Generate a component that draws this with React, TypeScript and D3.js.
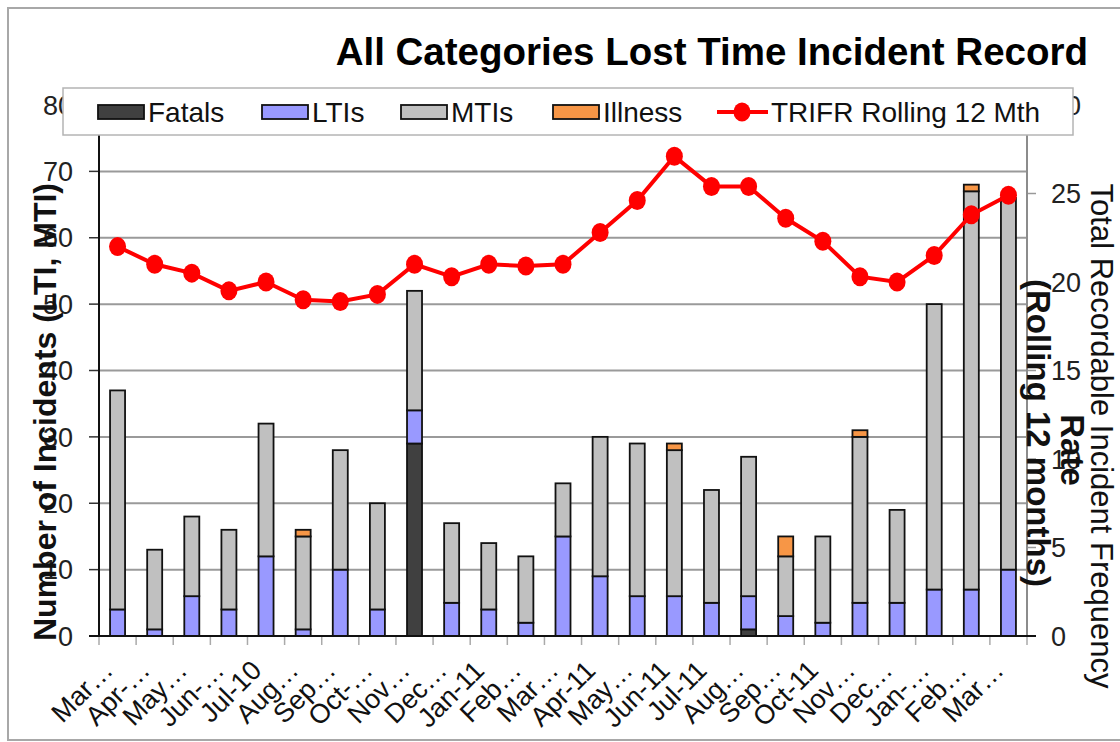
import React, { useEffect, useRef } from 'react';
import * as d3 from 'd3';

const months = [
  'Mar…', 'Apr-…', 'May…', 'Jun-…', 'Jul-10', 'Aug…', 'Sep…', 'Oct-…', 'Nov…', 'Dec…',
  'Jan-11', 'Feb…', 'Mar…', 'Apr-11', 'May…', 'Jun-11', 'Jul-11', 'Aug…', 'Sep…', 'Oct-11',
  'Nov…', 'Dec…', 'Jan-…', 'Feb…', 'Mar…',
];
const fatals = [0, 0, 0, 0, 0, 0, 0, 0, 29, 0, 0, 0, 0, 0, 0, 0, 0, 1, 0, 0, 0, 0, 0, 0, 0];
const ltis = [4, 1, 6, 4, 12, 1, 10, 4, 5, 5, 4, 2, 15, 9, 6, 6, 5, 5, 3, 2, 5, 5, 7, 7, 10];
const mtis = [33, 12, 12, 12, 20, 14, 18, 16, 18, 12, 10, 10, 8, 21, 23, 22, 17, 21, 9, 13, 25, 14, 43, 60, 56];
const illness = [0, 0, 0, 0, 0, 1, 0, 0, 0, 0, 0, 0, 0, 0, 0, 1, 0, 0, 3, 0, 1, 0, 0, 1, 0];
const trifr = [22.0, 21.0, 20.5, 19.5, 20.0, 19.0, 18.9, 19.3, 21.0, 20.3, 21.0, 20.9, 21.0, 22.8, 24.6, 27.1, 25.4, 25.4, 23.6, 22.3, 20.3, 20.0, 21.5, 23.8, 24.9];

const leftTicks = [0, 10, 20, 30, 40, 50, 60, 70, 80];
const rightTicks = [0, 5, 10, 15, 20, 25, 30];

const seriesKeys = ['Fatals', 'LTIs', 'MTIs', 'Illness'];
const seriesColors: Record<string, string> = {
  Fatals: '#404040',
  LTIs: '#9999ff',
  MTIs: '#c0c0c0',
  Illness: '#f79646',
};

const FONT = '"Liberation Sans", Arial, sans-serif';

export default function App() {
  const svgRef = useRef<SVGSVGElement>(null);

  useEffect(() => {
    if (!svgRef.current) return;
    const svg = d3.select(svgRef.current);
    svg.selectAll('*').remove();

    const plot = { left: 99, right: 1027, top: 105, bottom: 636 };

    const rows = months.map((m, i) => ({
      month: m,
      Fatals: fatals[i],
      LTIs: ltis[i],
      MTIs: mtis[i],
      Illness: illness[i],
    }));

    const x = d3.scaleBand<string>()
      .domain(d3.range(months.length).map(String))
      .range([plot.left, plot.right])
      .padding(0);
    const barW = 15;
    const cx = (i: number) => (x(String(i)) || 0) + x.bandwidth() / 2;

    const yL = d3.scaleLinear().domain([0, 80]).range([plot.bottom, plot.top]);
    const yR = d3.scaleLinear().domain([0, 30]).range([plot.bottom, plot.top]);

    // cadre extérieur
    svg.append('rect')
      .attr('x', 8).attr('y', 8)
      .attr('width', 1130).attr('height', 732)
      .attr('fill', '#fff')
      .attr('stroke', '#a8a8a8')
      .attr('stroke-width', 2);

    // grille
    svg.append('g').selectAll('line')
      .data(leftTicks.filter(t => t > 0))
      .enter().append('line')
      .attr('x1', plot.left).attr('x2', plot.right)
      .attr('y1', d => yL(d)).attr('y2', d => yL(d))
      .attr('stroke', '#9a9a9a').attr('stroke-width', 2);

    // graduations
    svg.append('g').selectAll('line')
      .data(leftTicks)
      .enter().append('line')
      .attr('x1', plot.left - 10).attr('x2', plot.left)
      .attr('y1', d => yL(d)).attr('y2', d => yL(d))
      .attr('stroke', '#333').attr('stroke-width', 1.5);
    svg.append('g').selectAll('line')
      .data(rightTicks)
      .enter().append('line')
      .attr('x1', plot.right).attr('x2', plot.right + 9)
      .attr('y1', d => yR(d)).attr('y2', d => yR(d))
      .attr('stroke', '#999').attr('stroke-width', 1.5);
    svg.append('g').selectAll('line')
      .data(d3.range(months.length + 1))
      .enter().append('line')
      .attr('x1', d => plot.left + d * x.bandwidth()).attr('x2', d => plot.left + d * x.bandwidth())
      .attr('y1', plot.bottom).attr('y2', plot.bottom + 9)
      .attr('stroke', '#aaa').attr('stroke-width', 1.5);

    // barres empilées
    const stacked = d3.stack<any>().keys(seriesKeys)(rows);
    stacked.forEach(layer => {
      svg.append('g').selectAll('rect')
        .data(layer.map((d, i) => ({ d, i })).filter(o => o.d[1] - o.d[0] > 0))
        .enter().append('rect')
        .attr('x', o => cx(o.i) - barW / 2)
        .attr('y', o => yL(o.d[1]))
        .attr('width', barW)
        .attr('height', o => yL(o.d[0]) - yL(o.d[1]))
        .attr('fill', seriesColors[layer.key])
        .attr('stroke', '#111')
        .attr('stroke-width', 1.8);
    });

    // axes
    svg.append('line')
      .attr('x1', plot.left).attr('x2', plot.left)
      .attr('y1', 130).attr('y2', plot.bottom)
      .attr('stroke', '#111').attr('stroke-width', 2);
    svg.append('line')
      .attr('x1', plot.right).attr('x2', plot.right)
      .attr('y1', 130).attr('y2', plot.bottom)
      .attr('stroke', '#8c8c8c').attr('stroke-width', 2);
    svg.append('line')
      .attr('x1', plot.left - 10).attr('x2', plot.right + 9)
      .attr('y1', plot.bottom).attr('y2', plot.bottom)
      .attr('stroke', '#111').attr('stroke-width', 2);

    // TRIFR
    const line = d3.line<number>()
      .x((_, i) => cx(i))
      .y(d => yR(d));
    svg.append('path')
      .datum(trifr)
      .attr('d', line)
      .attr('fill', 'none')
      .attr('stroke', '#ff0000')
      .attr('stroke-width', 4);
    svg.append('g').selectAll('ellipse')
      .data(trifr)
      .enter().append('ellipse')
      .attr('cx', (_, i) => cx(i))
      .attr('cy', d => yR(d))
      .attr('rx', 8.5)
      .attr('ry', 9.5)
      .attr('fill', '#ff0000');

    // libellés des axes
    svg.append('g').selectAll('text')
      .data(leftTicks)
      .enter().append('text')
      .attr('x', 73).attr('y', d => yL(d))
      .attr('dy', '0.36em')
      .attr('text-anchor', 'end')
      .style('font-family', FONT).style('font-size', '27px').attr('fill', '#222')
      .text(d => d);
    svg.append('g').selectAll('text')
      .data(rightTicks)
      .enter().append('text')
      .attr('x', 1051).attr('y', d => yR(d))
      .attr('dy', '0.36em')
      .style('font-family', FONT).style('font-size', '27px').attr('fill', '#222')
      .text(d => d);

    svg.append('g').selectAll('text')
      .data(months)
      .enter().append('text')
      .attr('transform', (_, i) => `translate(${cx(i) - 3},${672}) rotate(-45)`)
      .attr('text-anchor', 'end')
      .style('font-family', FONT).style('font-size', '27px').attr('fill', '#111')
      .text(d => d);

    svg.append('text')
      .attr('transform', 'translate(45,412) rotate(-90)')
      .attr('text-anchor', 'middle')
      .attr('dominant-baseline', 'central')
      .style('font-family', FONT).style('font-size', '32px').style('font-weight', 'bold')
      .attr('fill', '#111')
      .text('Number of Incidents (LTI, MTI)');

    const rightTitle = [
      { t: 'Total Recordable Incident Frequency', x: 1101, y: 436, size: 31, weight: 'normal' },
      { t: 'Rate', x: 1072, y: 450, size: 33, weight: 'bold' },
      { t: '(Rolling 12 months)', x: 1038, y: 433, size: 33, weight: 'bold' },
    ];
    svg.append('g').selectAll('text')
      .data(rightTitle)
      .enter().append('text')
      .attr('transform', d => `translate(${d.x},${d.y}) rotate(90)`)
      .attr('text-anchor', 'middle')
      .attr('dominant-baseline', 'central')
      .style('font-family', FONT)
      .style('font-size', d => `${d.size}px`)
      .style('font-weight', d => d.weight)
      .attr('fill', '#111')
      .text(d => d.t);

    // titre
    svg.append('text')
      .attr('x', 1088).attr('y', 65)
      .attr('text-anchor', 'end')
      .style('font-family', FONT).style('font-size', '38.5px').style('font-weight', 'bold')
      .attr('fill', '#000')
      .text('All Categories Lost Time Incident Record');

    // légende
    const lg = svg.append('g');
    lg.append('rect')
      .attr('x', 63).attr('y', 88).attr('width', 1010).attr('height', 47)
      .attr('fill', '#fff').attr('stroke', '#b4b4b4').attr('stroke-width', 1.5);
    const legendX = [98, 262, 401, 553];
    seriesKeys.forEach((k, i) => {
      lg.append('rect')
        .attr('x', legendX[i]).attr('y', 105).attr('width', 46).attr('height', 14)
        .attr('fill', seriesColors[k]).attr('stroke', '#111').attr('stroke-width', 1.8);
      lg.append('text')
        .attr('x', legendX[i] + 50).attr('y', 112).attr('dy', '0.36em')
        .style('font-family', FONT).style('font-size', '28px').attr('fill', '#111')
        .text(k);
    });
    lg.append('line')
      .attr('x1', 717).attr('x2', 768).attr('y1', 112).attr('y2', 112)
      .attr('stroke', '#ff0000').attr('stroke-width', 4);
    lg.append('ellipse')
      .attr('cx', 742).attr('cy', 112).attr('rx', 8.5).attr('ry', 9.5).attr('fill', '#ff0000');
    lg.append('text')
      .attr('x', 771).attr('y', 112).attr('dy', '0.36em')
      .style('font-family', FONT).style('font-size', '28px').attr('fill', '#111')
      .text('TRIFR Rolling 12 Mth');
  }, []);

  return (
    <svg
      ref={svgRef}
      width={1120}
      height={742}
      style={{ position: 'absolute', left: 0, top: 0, background: '#fff', display: 'block' }}
    />
  );
}
